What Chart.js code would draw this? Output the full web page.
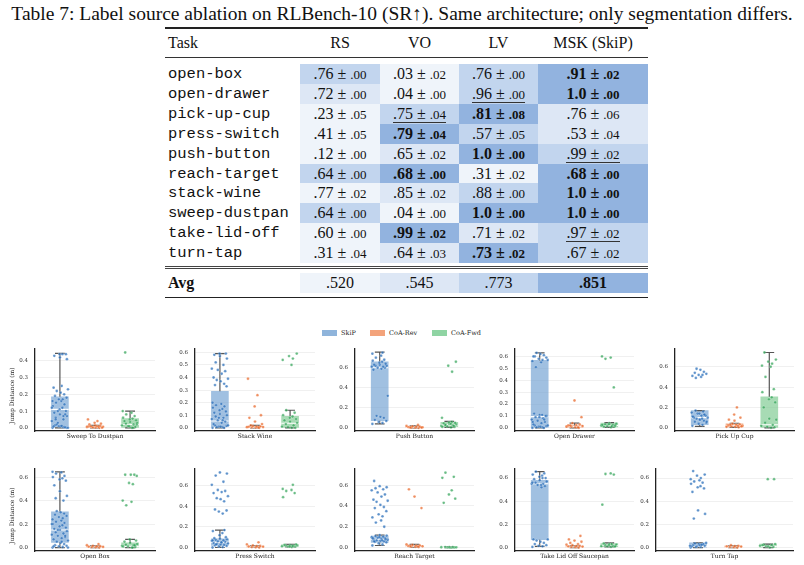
<!DOCTYPE html>
<html>
<head>
<meta charset="utf-8">
<script src="https://cdn.jsdelivr.net/npm/chart.js@4.4.0/dist/chart.umd.min.js"></script>
<style>
  body { margin: 0; width: 804px; height: 565px; background: #fff; position: relative; overflow: hidden;
         font-family: 'Liberation Serif', 'Times New Roman', serif; color: #111; }
  #caption { position: absolute; left: 0; top: 3px; width: 804px; text-align: center; font-size: 19.5px;
             line-height: 22px; white-space: nowrap; }
  .rule { position: absolute; left: 165px; width: 483px; background: #222; }
  .cell { position: absolute; height: 20px; line-height: 20px; text-align: center; font-size: 16px; white-space: nowrap; }
  .task { position: absolute; left: 168px; height: 20px; line-height: 20px; font-family: 'Liberation Mono', monospace;
          font-size: 15.5px; white-space: nowrap; }
  .sd { font-size: 13px; }
  .b { font-weight: bold; }
  .u { display: inline-block; line-height: 15px; border-bottom: 1px solid #333; }
  .leg { position: absolute; top: 327px; font-family: 'DejaVu Serif', serif; font-size: 6.5px; line-height: 12px; color: #222; }
  .sw { position: absolute; top: 330px; width: 15px; height: 6px; }
  canvas { position: absolute; }
</style>
</head>
<body>
<div id="caption">Table 7: Label source ablation on RLBench-10 (SR↑). Same architecture; only segmentation differs.</div>
<div id="table"></div>

<script>
// ---- table data ----
const tasks = ['open-box', 'open-drawer', 'pick-up-cup', 'press-switch', 'push-button',
               'reach-target', 'stack-wine', 'sweep-dustpan', 'take-lid-off', 'turn-tap'];
const methods = ['RS', 'VO', 'LV', 'MSK (SkiP)'];
const rsMean  = ['.76', '.72', '.23', '.41', '.12', '.64', '.77', '.64', '.60', '.31'];
const rsStd   = ['.00', '.00', '.05', '.05', '.00', '.00', '.02', '.00', '.00', '.04'];
const voMean  = ['.03', '.04', '.75', '.79', '.65', '.68', '.85', '.04', '.99', '.64'];
const voStd   = ['.02', '.00', '.04', '.04', '.02', '.00', '.02', '.00', '.02', '.03'];
const lvMean  = ['.76', '.96', '.81', '.57', '1.0', '.31', '.88', '1.0', '.71', '.73'];
const lvStd   = ['.00', '.00', '.08', '.05', '.00', '.02', '.00', '.00', '.02', '.02'];
const mskMean = ['.91', '1.0', '.76', '.53', '.99', '.68', '1.0', '1.0', '.97', '.67'];
const mskStd  = ['.02', '.00', '.06', '.04', '.02', '.00', '.00', '.00', '.02', '.02'];
const avgScores = ['.520', '.545', '.773', '.851'];
// bold (best) and underlined (second) columns per row
const bestCols   = [[3], [3], [2], [1], [2], [1, 3], [3], [2, 3], [1], [2]];
const secondCols = [[], [2], [1], [], [3], [], [], [], [3], []];
const bestAvg = [3];

// ---- jump distance plots ----
const seriesNames = ['SkiP', 'CoA-Rev', 'CoA-Fwd'];
const plotTasks = ['Sweep To Dustpan', 'Stack Wine', 'Push Button', 'Open Drawer', 'Pick Up Cup',
                   'Open Box', 'Press Switch', 'Reach Target', 'Take Lid Off Saucepan', 'Turn Tap'];
// box stats: [lowWhisker, q1, median, q3, highWhisker]
const skipBox = [[0, 0.005, 0.11, 0.185, 0.445], [0, 0.01, 0.055, 0.29, 0.59], [0.04, 0.072, 0.6, 0.66, 0.755],
                 [0, 0.005, 0.095, 0.566, 0.63], [0.015, 0.03, 0.1, 0.17, 0.17], [0, 0.045, 0.15, 0.305, 0.645],
                 [0, 0.02, 0.05, 0.085, 0.17], [0.02, 0.05, 0.08, 0.11, 0.12], [0.01, 0.068, 0.55, 0.58, 0.655],
                 [0, 0, 0.01, 0.04, 0.04]];
const revBox  = [[0, 0, 0.004, 0.01, 0.015], [0, 0, 0.005, 0.012, 0.02], [0, 0.002, 0.006, 0.012, 0.02],
                 [0, 0.003, 0.01, 0.02, 0.04], [0.005, 0.01, 0.02, 0.04, 0.045], [0, 0, 0.005, 0.01, 0.015],
                 [0, 0, 0.005, 0.01, 0.015], [0.005, 0.008, 0.012, 0.02, 0.03], [0, 0, 0.005, 0.01, 0.015],
                 [0, 0, 0.005, 0.012, 0.015]];
const fwdBox  = [[0, 0, 0.02, 0.055, 0.1], [0, 0, 0.037, 0.092, 0.14], [0.005, 0.012, 0.03, 0.055, 0.065],
                 [0.005, 0.008, 0.02, 0.04, 0.045], [0, 0, 0.03, 0.305, 0.74], [0, 0, 0.01, 0.04, 0.07],
                 [0.005, 0.008, 0.015, 0.025, 0.03], [0, 0, 0.002, 0.005, 0.006], [0.005, 0.008, 0.018, 0.035, 0.04],
                 [0, 0, 0.01, 0.03, 0.03]];
// individual episode jump distances (m)
const skipPts = [
  [0, 0.005, 0.01, 0, 0.015, 0.005, 0.01, 0.02, 0, 0.008, 0.012, 0.003, 0.03, 0.04, 0.05, 0.06, 0.07, 0.08, 0.09, 0.1,
   0.11, 0.12, 0.13, 0.14, 0.15, 0.16, 0.16, 0.17, 0.17, 0.18, 0.19, 0.2, 0.21, 0.22, 0.23, 0.24, 0.25, 0.08, 0.1,
   0.12, 0.07, 0.05, 0.41, 0.42, 0.43, 0.44, 0.44, 0.44],
  [0, 0.005, 0.01, 0.015, 0.02, 0, 0.01, 0.005, 0.02, 0.03, 0.04, 0.05, 0.06, 0.07, 0.08, 0.09, 0.1, 0.11, 0.12, 0.13,
   0.14, 0.15, 0.16, 0.17, 0.18, 0.19, 0.2, 0.06, 0.08, 0.33, 0.34, 0.35, 0.37, 0.38, 0.39, 0.4, 0.43, 0.45, 0.46,
   0.47, 0.5, 0.52, 0.55, 0.57, 0.58, 0.59, 0.59],
  [0.04, 0.05, 0.06, 0.07, 0.08, 0.1, 0.11, 0.12, 0.32, 0.58, 0.59, 0.6, 0.6, 0.61, 0.61, 0.62, 0.62, 0.63, 0.63, 0.64,
   0.65, 0.66, 0.67, 0.68, 0.7, 0.72, 0.74, 0.75],
  [0, 0.005, 0.01, 0.015, 0.02, 0, 0.01, 0.005, 0.02, 0.03, 0.04, 0.05, 0.06, 0.07, 0.08, 0.09, 0.1, 0.11, 0.12, 0.1,
   0.09, 0.11, 0.05, 0.07, 0.51, 0.55, 0.56, 0.57, 0.58, 0.59, 0.6, 0.61, 0.62, 0.63, 0.57, 0.6],
  [0.02, 0.03, 0.04, 0.05, 0.06, 0.07, 0.08, 0.09, 0.1, 0.11, 0.12, 0.13, 0.14, 0.15, 0.16, 0.17, 0.06, 0.08, 0.1,
   0.12, 0.14, 0.09, 0.11, 0.13, 0.49, 0.5, 0.51, 0.52, 0.52, 0.53, 0.54, 0.55, 0.57, 0.58],
  [0, 0.005, 0.01, 0.015, 0.02, 0.03, 0.04, 0.05, 0.06, 0.07, 0.08, 0.09, 0.1, 0.11, 0.12, 0.13, 0.14, 0.15, 0.16,
   0.17, 0.18, 0.19, 0.2, 0.21, 0.22, 0.23, 0.24, 0.25, 0.26, 0.27, 0.28, 0.29, 0.3, 0.31, 0, 0.01, 0.05, 0.1, 0.15,
   0.2, 0.4, 0.42, 0.44, 0.48, 0.53, 0.57, 0.58, 0.59, 0.6, 0.61, 0.63, 0.64, 0.645],
  [0, 0.005, 0.01, 0.015, 0.02, 0.025, 0.03, 0.035, 0.04, 0.045, 0.05, 0.055, 0.06, 0.065, 0.07, 0.075, 0.08, 0.085,
   0.09, 0.1, 0.12, 0.14, 0.16, 0.17, 0.03, 0.05, 0.07, 0.33, 0.35, 0.36, 0.37, 0.45, 0.47, 0.48, 0.5, 0.53, 0.54,
   0.55, 0.56, 0.61, 0.64, 0.7, 0.72, 0.73],
  [0.02, 0.03, 0.04, 0.05, 0.055, 0.06, 0.065, 0.07, 0.075, 0.08, 0.085, 0.09, 0.095, 0.1, 0.105, 0.11, 0.115, 0.12,
   0.06, 0.08, 0.1, 0.07, 0.09, 0.2, 0.24, 0.26, 0.29, 0.3, 0.32, 0.35, 0.38, 0.39, 0.41, 0.44, 0.45, 0.46, 0.49,
   0.51, 0.53, 0.55, 0.56, 0.57, 0.58, 0.59, 0.64],
  [0.005, 0.01, 0.015, 0.02, 0.03, 0.04, 0.05, 0.06, 0.07, 0.07, 0.52, 0.53, 0.54, 0.55, 0.55, 0.56, 0.57, 0.58, 0.59,
   0.6, 0.61, 0.62, 0.63, 0.64, 0.655, 0.54, 0.56, 0.6],
  [0, 0.005, 0.01, 0.015, 0.02, 0.025, 0.03, 0.035, 0.04, 0.01, 0.02, 0.03, 0.005, 0.015, 0.025, 0.25, 0.29, 0.32,
   0.48, 0.51, 0.52, 0.53, 0.55, 0.56, 0.57, 0.58, 0.59, 0.6, 0.62, 0.63, 0.66]
];
const revPts = [
  [0, 0.002, 0.004, 0.006, 0.008, 0.01, 0.012, 0.003, 0.005, 0.007, 0.009, 0.001, 0.015, 0.02, 0.025, 0.03, 0.04, 0.05],
  [0, 0.002, 0.004, 0.006, 0.008, 0.01, 0.012, 0.015, 0.005, 0.003, 0.02, 0.03, 0.05, 0.08, 0.1, 0.17, 0.26, 0.39],
  [0, 0.002, 0.004, 0.006, 0.008, 0.01, 0.012, 0.015, 0.02, 0.03, 0.005, 0.003],
  [0, 0.005, 0.01, 0.015, 0.02, 0.025, 0.03, 0.04, 0.01, 0.005, 0.02, 0.09, 0.23],
  [0.005, 0.01, 0.015, 0.02, 0.025, 0.03, 0.035, 0.04, 0.01, 0.02, 0.03, 0.015, 0.07, 0.08, 0.1, 0.13, 0.2],
  [0, 0.002, 0.004, 0.006, 0.008, 0.01, 0.012, 0.015, 0.02, 0.03],
  [0, 0.002, 0.005, 0.008, 0.01, 0.012, 0.015, 0.02, 0.03, 0.05],
  [0.005, 0.008, 0.01, 0.012, 0.015, 0.018, 0.02, 0.025, 0.03, 0.01, 0.015, 0.38, 0.49, 0.56],
  [0, 0.003, 0.005, 0.008, 0.01, 0.012, 0.015, 0.02, 0.025, 0.03, 0.04, 0.05, 0.06, 0.07, 0.1],
  [0, 0.003, 0.005, 0.008, 0.01, 0.012, 0.015, 0.02]
];
const fwdPts = [
  [0, 0.005, 0.01, 0.015, 0.02, 0.025, 0.03, 0.035, 0.04, 0.045, 0.05, 0.055, 0.06, 0.07, 0.08, 0.09, 0.1, 0, 0.01, 0.02, 0.45],
  [0, 0, 0.005, 0.01, 0.02, 0.03, 0.04, 0.05, 0.06, 0.07, 0.08, 0.09, 0.1, 0.12, 0.14, 0.5, 0.54, 0.55, 0.57, 0.59],
  [0.005, 0.01, 0.015, 0.02, 0.025, 0.03, 0.035, 0.04, 0.045, 0.05, 0.055, 0.06, 0.01, 0.02, 0.03, 0.04, 0.1, 0.56, 0.62, 0.66],
  [0.005, 0.01, 0.015, 0.02, 0.025, 0.03, 0.035, 0.04, 0.01, 0.02, 0.03, 0.015, 0.025, 0.34, 0.58, 0.59, 0.6],
  [0, 0.005, 0.01, 0.02, 0.03, 0.05, 0.08, 0.09, 0.2, 0.25, 0.28, 0.3, 0.35, 0.38, 0.5, 0.6, 0.61, 0.63, 0.65, 0.67, 0.74],
  [0, 0.005, 0.01, 0.015, 0.02, 0.025, 0.03, 0.04, 0.05, 0.06, 0.07, 0, 0.01, 0.02, 0.36, 0.39, 0.4, 0.54, 0.55, 0.61, 0.62, 0.62, 0.62],
  [0.005, 0.008, 0.01, 0.012, 0.015, 0.018, 0.02, 0.022, 0.025, 0.03, 0.01, 0.015, 0.49, 0.53, 0.55, 0.56, 0.57, 0.61],
  [0, 0.001, 0.002, 0.003, 0.004, 0.005, 0.002, 0.003, 0.43, 0.47, 0.51, 0.55, 0.67, 0.68, 0.72],
  [0.005, 0.008, 0.01, 0.012, 0.015, 0.02, 0.025, 0.03, 0.035, 0.01, 0.02, 0.03, 0.37, 0.63, 0.635, 0.64],
  [0, 0.005, 0.01, 0.015, 0.02, 0.025, 0.03, 0.01, 0.02, 0.59, 0.59]
];

// ---------------- table ----------------
const tableEl = document.getElementById('table');
const colLeft = [300, 380, 459, 538];
const colWidth = [80, 79, 79, 110];
const shades = ['#92b3df', '#c2d5ee', '#dde7f5', '#eff4fa'];

function addDiv(cls, style, html) {
  const d = document.createElement('div');
  d.className = cls;
  d.setAttribute('style', style);
  d.innerHTML = html;
  tableEl.appendChild(d);
}
function rule(top, h, color) {
  addDiv('rule', `top:${top}px;height:${h}px;background:${color || '#222'}`, '');
}
function rowRanks(vals, best, second) {
  const nums = vals.map(Number);
  const ranks = nums.map(() => null);
  best.forEach(c => ranks[c] = 0);
  second.forEach(c => ranks[c] = 1);
  let next = second.length ? 2 : 1;
  const rest = [...new Set(nums.filter((v, i) => ranks[i] === null))].sort((a, b) => b - a);
  const lowest = Math.min(...nums);
  nums.forEach((v, i) => {
    if (ranks[i] !== null) return;
    ranks[i] = v === lowest ? 3 : Math.min(3, next + rest.indexOf(v));
  });
  return ranks;
}

rule(27, 1.6);
addDiv('task', 'top:33px;font-family:"Liberation Serif",serif;font-size:16px', 'Task');
methods.forEach((m, j) => addDiv('cell', `top:33px;left:${colLeft[j]}px;width:${colWidth[j]}px`, m));
rule(56.5, 1.2, '#333');

const means = [rsMean, voMean, lvMean, mskMean];
const stds = [rsStd, voStd, lvStd, mskStd];
tasks.forEach((t, i) => {
  const top = 64 + i * 19.9;
  addDiv('task', `top:${top}px`, t);
  const ranks = rowRanks(means.map(m => m[i]), bestCols[i], secondCols[i]);
  means.forEach((m, j) => {
    let txt = `${m[i]} ± <span class="sd">${stds[j][i]}</span>`;
    if (bestCols[i].includes(j)) txt = `<span class="b">${txt}</span>`;
    if (secondCols[i].includes(j)) txt = `<span class="u">${txt}</span>`;
    addDiv('cell', `top:${top}px;left:${colLeft[j]}px;width:${colWidth[j]}px;height:20px;background:${shades[ranks[j]]}`, txt);
  });
});
rule(266, 1, '#444');
rule(268.2, 1.2, '#444');
addDiv('task', 'top:273px;font-family:"Liberation Serif",serif;font-size:16px;font-weight:bold', 'Avg');
const avgRanks = rowRanks(avgScores, bestAvg, []);
avgScores.forEach((v, j) => {
  const txt = bestAvg.includes(j) ? `<span class="b">${v}</span>` : v;
  addDiv('cell', `top:273px;left:${colLeft[j]}px;width:${colWidth[j]}px;background:${shades[avgRanks[j]]}`, txt);
});
rule(296.5, 1.6);

// ---------------- legend ----------------
const swatchColors = ['#8fb4db', '#f3a37b', '#8fd4a3'];
const legX = [322, 370, 432];
seriesNames.forEach((n, k) => {
  addDiv('sw', `left:${legX[k]}px;background:${swatchColors[k]}`, '');
  addDiv('leg', `left:${legX[k] + 19}px`, n);
});

// ---------------- jump distance panels ----------------
const jitter = [-0.21, 0.08, -0.03, 0.19, -0.14, 0.12, 0.02, -0.09, 0.23, -0.18, 0.05, 0.15, -0.06, -0.23,
                0.1, -0.12, 0.2, 0.0, -0.16, 0.17, -0.01, 0.07, -0.2, 0.13, -0.11, 0.04];
const boxFill = ['rgba(120,165,212,0.7)', 'rgba(240,140,90,0.7)', 'rgba(120,200,140,0.65)'];
const ptColor = ['rgba(40,110,185,0.75)', 'rgba(232,95,30,0.7)', 'rgba(40,160,80,0.7)'];

const panelLeft = [0, 160, 320, 480, 640, 0, 160, 320, 480, 621];
const panelWidth = [160, 160, 160, 160, 160, 160, 160, 160, 160, 183];
const panelPadRight = [5, 5, 6, 6, 6, 5, 5, 6, 6, 11];
const yMin = [-0.019, -0.025, -0.031, -0.026, -0.031, -0.029, -0.034, -0.033, -0.030, -0.030];
const yMax = [0.475, 0.632, 0.794, 0.668, 0.781, 0.675, 0.771, 0.762, 0.684, 0.684];
const yStep = [0.1, 0.1, 0.2, 0.1, 0.2, 0.2, 0.2, 0.2, 0.2, 0.2];

const panelText = {
  id: 'panelText',
  afterDraw(chart, args, opts) {
    const { ctx, chartArea } = chart;
    ctx.save();
    ctx.font = '6px "DejaVu Serif"';
    ctx.fillStyle = '#222';
    ctx.textAlign = 'center';
    ctx.textBaseline = 'middle';
    ctx.fillText(opts.label, (chartArea.left + chartArea.right) / 2, chartArea.bottom + 5.5);
    if (opts.yTitle) {
      ctx.translate(12, (chartArea.top + chartArea.bottom) / 2 + 6);
      ctx.rotate(-Math.PI / 2);
      ctx.fillText(opts.yTitle, 0, 0);
    }
    ctx.restore();
  }
};

function segs(stats, pick) {
  const out = [];
  stats.forEach((s, k) => { pick(s, k).forEach(p => out.push(p)); out.push({ x: k, y: null }); });
  return out;
}

plotTasks.forEach((name, p) => {
  const cv = document.createElement('canvas');
  const w = panelWidth[p], h = 108;
  cv.width = w; cv.height = h;
  cv.style.left = panelLeft[p] + 'px';
  cv.style.top = (p < 5 ? 338 : 458) + 'px';
  cv.style.width = w + 'px'; cv.style.height = h + 'px';
  document.body.appendChild(cv);

  const stats = [skipBox[p], revBox[p], fwdBox[p]];
  const pts = [skipPts[p], revPts[p], fwdPts[p]];
  const cap = 0.14, half = 0.25;

  const datasets = [];
  pts.forEach((vals, k) => {
    datasets.push({
      type: 'scatter', order: 0,
      data: vals.map((v, i) => ({ x: k + jitter[(i + k * 5) % jitter.length], y: v })),
      pointRadius: 1.4, pointBorderWidth: 0.4,
      backgroundColor: ptColor[k], borderColor: 'rgba(255,255,255,0.6)'
    });
  });
  datasets.push({
    type: 'scatter', order: 1, showLine: true, spanGaps: false, pointRadius: 0,
    borderColor: '#ffffff', borderWidth: 1.1,
    data: segs(stats, (s, k) => [{ x: k - half, y: s[2] }, { x: k + half, y: s[2] }])
  });
  datasets.push({
    type: 'scatter', order: 2, showLine: true, spanGaps: false, pointRadius: 0,
    borderColor: '#555555', borderWidth: 1.2,
    data: segs(stats, (s, k) => [
      { x: k, y: s[0] }, { x: k, y: s[1] }, { x: k, y: null },
      { x: k, y: s[3] }, { x: k, y: s[4] }, { x: k, y: null },
      { x: k - cap, y: s[0] }, { x: k + cap, y: s[0] }, { x: k, y: null },
      { x: k - cap, y: s[4] }, { x: k + cap, y: s[4] }
    ])
  });
  datasets.push({
    type: 'bar', order: 3,
    data: stats.map((s, k) => ({ x: k, y: [s[1], Math.max(s[3], s[1] + 0.004)] })),
    backgroundColor: boxFill, borderWidth: 0, barThickness: 17
  });

  new Chart(cv, {
    type: 'scatter',
    data: { datasets },
    plugins: [panelText],
    options: {
      responsive: false,
      animation: false,
      layout: { padding: { top: 5, right: panelPadRight[p], left: 0, bottom: 0 } },
      plugins: {
        legend: { display: false },
        tooltip: { enabled: false },
        panelText: { label: name, yTitle: (p === 0 || p === 5) ? 'Jump Distance (m)' : '' }
      },
      scales: {
        x: {
          type: 'linear', offset: false,
          min: p === 9 ? -1.2 : -0.71, max: 2.71,
          ticks: { display: false },
          grid: { display: false },
          border: { display: true, color: '#222', width: 1.3 },
          afterFit: s => { s.height = 15; }
        },
        y: {
          min: yMin[p], max: yMax[p],
          afterBuildTicks: s => {
            const t = [];
            for (let v = 0; v <= yMax[p] + 1e-9; v += yStep[p]) t.push({ value: Math.round(v * 10) / 10 });
            s.ticks = t;
          },
          ticks: {
            padding: 7, color: '#333',
            font: { family: 'DejaVu Serif', size: 5.5 },
            callback: v => Number(v).toFixed(1)
          },
          grid: { color: '#ececec', lineWidth: 0.8, drawTicks: false },
          border: { display: true, color: '#222', width: 1.3 },
          afterFit: s => { s.width = 35; }
        }
      }
    }
  });
});
</script>
</body>
</html>
